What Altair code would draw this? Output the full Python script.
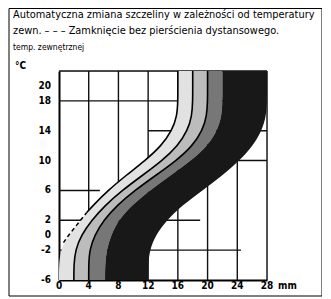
import altair as alt
import pandas as pd

# Temperature levels (°C) at which the curves were read
temps = [-6, -4, -2, 0, 2, 4, 6, 8, 10, 12, 14, 16, 18, 20, 22]
# Gap (mm) of the boundary curves, left to right
curve_a = [0, 0, 0.2, 1.3, 2.9, 4.6, 6.6, 9.0, 11.6, 13.8, 15.2, 15.9, 16, 16, 16]
curve_b = [2, 2, 2.2, 3.0, 4.4, 6.2, 8.5, 11.2, 13.9, 16.0, 17.3, 17.9, 18, 18, 18]
curve_c = [4, 4, 4.1, 4.8, 6.0, 7.8, 10.2, 13.0, 15.8, 18.0, 19.3, 19.9, 20, 20, 20]
curve_d = [6.2, 6.2, 6.4, 7.0, 8.0, 9.8, 12.2, 15.0, 17.8, 20.0, 21.3, 21.9, 22, 22, 22]
curve_e = [12, 12, 12.2, 13.0, 14.5, 16.6, 19.3, 22.0, 24.3, 26.1, 27.3, 27.9, 28, 28, 28]

band_colors = ["#e2e2e2", "#bcbcbc", "#777777", "#181818"]

# dashed lower part of the leftmost curve (closure without spacer ring)
dash_t = [-1, 0, 2, 3]
dash_x = [0.6, 1.3, 2.9, 3.7]

# grid segments
h_t = [22, 18, 14, 10, 6, 2, -2]
h_from = [0, 0, 12, 20, 0, 0, 0]
h_to = [28, 28, 28, 28, 5.5, 19, 24.5]
v_x = [4, 8, 12, 16, 20, 24, 28]

y_ticks = [20, 18, 14, 10, 6, 2, 0, -2, -6]
y_labels = ["20", "18", "14", "10", "6", "2", "0", "-2", "-6"]
x_ticks = [0, 4, 8, 12, 16, 20, 24, 28]
x_labels = ["0", "4", "8", "12", "16", "20", "24", "28"]

title1 = "Automatyczna zmiana szczeliny w zależności od temperatury"
title2 = "zewn. – – – Zamknięcie bez pierścienia dystansowego."
title3 = "temp. zewnętrznej"
unit_y = "°C"
unit_x = "mm"

FONT = "DejaVu Sans Condensed"

curves = [curve_a, curve_b, curve_c, curve_d, curve_e]

xs = alt.Scale(domain=[0, 28], nice=False, zero=False)
ys = alt.Scale(domain=[-6, 22], nice=False, zero=False)

common = dict(grid=False, ticks=False, labels=False, domain=True, domainColor="black",
              domainWidth=2, title=None)
x_axis = alt.Axis(values=x_ticks, **common)
y_axis = alt.Axis(values=y_ticks, **common)


def X(field):
    return alt.X(field, type="quantitative", scale=xs, axis=x_axis)


def Y(field):
    return alt.Y(field, type="quantitative", scale=ys, axis=y_axis)


vgrid = pd.DataFrame({"x": v_x, "t1": [-6] * len(v_x), "t2": [22] * len(v_x)})
hgrid = pd.DataFrame({"T": h_t, "x1": h_from, "x2": h_to})

vg = alt.Chart(vgrid).mark_rule(color="#111", strokeWidth=1.4).encode(
    x=X("x"), y=Y("t1"), y2="t2:Q")
hg = alt.Chart(hgrid).mark_rule(color="#111", strokeWidth=1.4).encode(
    y=Y("T"), x=X("x1"), x2="x2:Q")

layers = [vg, hg]
for i, col in enumerate(band_colors):
    df = pd.DataFrame({"T": temps, "left": curves[i], "right": curves[i + 1]})
    layers.append(
        alt.Chart(df).mark_area(orient="horizontal", interpolate="basis", color=col).encode(
            y=Y("T"), x=X("left"), x2="right:Q")
    )

for name, c in [("A", curve_a), ("B", curve_b), ("C", curve_c)]:
    if name == "A":
        tt = [t for t in temps if t >= 3]
        cc = [x for t, x in zip(temps, c) if t >= 3]
        df = pd.DataFrame({"T": [dash_t[-1]] + tt, "x": [dash_x[-1]] + cc})
    else:
        df = pd.DataFrame({"T": temps, "x": c})
    layers.append(
        alt.Chart(df).mark_line(color="black", strokeWidth=1.6, interpolate="basis").encode(
            y=Y("T"), x=X("x"), order=alt.Order("T:Q"))
    )

dash_df = pd.DataFrame({"T": dash_t, "x": dash_x})
layers.append(
    alt.Chart(dash_df).mark_line(color="black", strokeWidth=1.5, strokeDash=[4, 3]).encode(
        y=Y("T"), x=X("x"), order=alt.Order("T:Q"))
)

# tick labels
ylab_df = pd.DataFrame({"v": y_ticks, "lab": y_labels})
xlab_df = pd.DataFrame({"v": x_ticks, "lab": x_labels})
layers.append(
    alt.Chart(ylab_df).mark_text(font=FONT, fontSize=10, fontWeight="bold", align="right",
                                 baseline="middle", color="black").encode(
        y=Y("v"), x=alt.value(-8), text="lab:N")
)
layers.append(
    alt.Chart(xlab_df).mark_text(font=FONT, fontSize=10, fontWeight="bold", align="center",
                                 baseline="top", color="black").encode(
        x=X("v"), y=alt.value(210), text="lab:N")
)
layers.append(
    alt.Chart().mark_text(font=FONT, fontSize=10, fontWeight="bold", align="left", baseline="top",
                          dx=11, color="black").encode(
        x=alt.datum(28, scale=xs), y=alt.value(210), text=alt.value(unit_x))
)


def label(txt, x, y, size, weight="normal"):
    return alt.Chart().mark_text(font=FONT, fontSize=size, fontWeight=weight,
                                 align="left", baseline="middle", color="black").encode(
        x=alt.value(x), y=alt.value(y), text=alt.value(txt))


layers += [
    label(title1, -46, -56, 10.9),
    label(title2, -46, -40, 10.9),
    label(title3, -46, -24, 8.5),
    label(unit_y, -44, -5, 10, "bold"),
]

# outer frame
for x1, x2, y1, y2 in [(-50, 263, -62.5, -62.5), (-50, 263, 225, 225), (-50, -50, -62.5, 225), (263, 263, -62.5, 225)]:
    layers.append(
        alt.Chart().mark_rule(color="black", strokeWidth=1).encode(
            x=alt.value(x1), x2=alt.value(x2), y=alt.value(y1), y2=alt.value(y2))
    )

chart = alt.layer(*layers).properties(
    width=208, height=209,
    autosize=alt.AutoSizeParams(type="none"),
    padding={"left": 51, "top": 63, "right": 55, "bottom": 18},
).configure_view(stroke=None).configure(background="white")

chart.save("out.html", embed_options={"renderer": "svg", "actions": False})
